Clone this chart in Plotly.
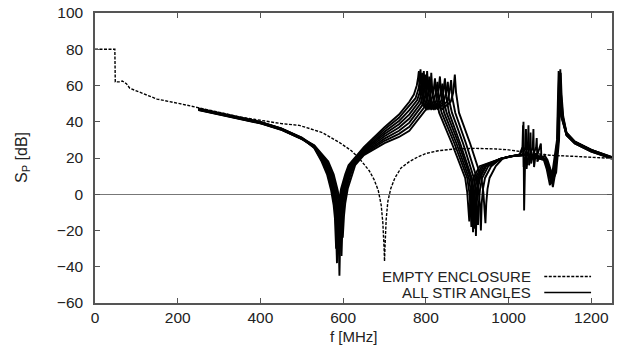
import plotly.graph_objects as go

# ---------------- data ----------------
X_TICKS = [0, 200, 400, 600, 800, 1000, 1200]
Y_TICKS = [-60, -40, -20, 0, 20, 40, 60, 80, 100]
LEGEND_LABELS = ["EMPTY ENCLOSURE", "ALL STIR ANGLES"]
X_TITLE = "f [MHz]"
Y_TITLE = "S<sub>P</sub> [dB]"

EMPTY_F = [0, 48, 49, 60, 66, 70, 76, 84, 96, 125, 150, 205, 253, 300, 350, 400, 450,
           494, 550, 590, 620, 640, 663, 675, 685, 692, 696, 699, 700, 701, 704, 708,
           715, 725, 740, 760, 780, 800, 830, 870, 920, 970, 1000, 1030, 1060, 1100,
           1150, 1200, 1250]
EMPTY_S = [80, 80, 62, 62, 62.5, 62, 61, 58.5, 57.4, 54.6, 52.5, 50, 47.5, 45, 42.7,
           40.8, 39, 38, 34, 28.7, 24, 19.5, 13, 8, 2, -6, -16, -30, -37, -30, -14, -4,
           3, 9, 14.5, 18, 20.5, 22.5, 24, 25, 25.3, 25, 24.5, 23.5, 22.5, 21.5, 21,
           20.5, 19.8]

STIR_1 = [(250, 47.2), (300, 44.8), (350, 42.3), (400, 39.8), (450, 36.3), (500, 31.1),
          (530, 25.5), (548, 18), (561, 11), (571, 2), (577, -6), (580, -13), (583, -30),
          (586, -12), (589, -5), (595, 3), (605, 11), (613, 16), (650, 26), (700, 37),
          (735, 44), (760, 51), (771, 55), (778, 60), (781, 64), (783, 68), (786, 56),
          (791, 50), (801, 47), (812, 51), (818, 56), (822, 64), (825, 54), (832, 45),
          (863, 28), (895, 9), (900, 1), (903, -7), (905, -15), (907, -5), (910, 3),
          (915, 9), (930, 15.5), (980, 19.5), (1005, 21), (1027, 22), (1033.5, 26),
          (1035, 38), (1036.5, 15), (1039, 19.5), (1044, 21.5), (1085, 19), (1092, 14),
          (1100, 5), (1106, 12), (1117, 30), (1119, 50), (1121, 68), (1123, 55),
          (1127, 43), (1140, 33), (1160, 28.5), (1200, 24), (1250, 20)]
STIR_2 = [(250, 46.9), (300, 44.5), (350, 42.0), (400, 39.5), (450, 36.0), (500, 30.8),
          (530, 25.8), (550, 18), (563, 11), (573, 2), (579, -6), (582, -13), (585, -38),
          (588, -12), (591, -5), (597, 3), (607, 11), (615, 16), (650, 25.3), (700, 35.8),
          (735, 42.2), (760, 48.7), (775, 53), (782, 58), (785, 62), (787, 69), (790, 57),
          (795, 50), (805, 47), (818, 51), (824, 56), (828, 62), (831, 52), (838, 45),
          (869, 28), (900, 9), (905, 1), (908, -7), (910, -18), (912, -5), (915, 3),
          (920, 9), (935, 15.5), (980, 19.5), (1005, 21), (1028, 22), (1034.5, 26),
          (1036, 40), (1037.5, -9), (1040, 19.5), (1045, 21.5), (1088, 19), (1095, 14),
          (1103, 7), (1109, 12), (1118, 30), (1120, 50), (1122, 65), (1124, 55),
          (1128, 43), (1140, 32.5), (1160, 28), (1200, 23.5), (1250, 19.8)]
STIR_3 = [(250, 46.6), (300, 44.2), (350, 41.7), (400, 39.2), (450, 35.7), (500, 30.5),
          (530, 26), (552, 18), (565, 11), (575, 2), (581, -6), (584, -13), (587, -28),
          (590, -12), (593, -5), (599, 3), (609, 11), (617, 16), (650, 24.6), (700, 34.5),
          (735, 40.4), (760, 46.4), (779, 52), (786, 57), (789, 61), (791, 67), (794, 55),
          (799, 50), (810, 47), (824, 51), (830, 56), (834, 65), (837, 55), (844, 45),
          (874, 28), (904, 9), (909, 1), (912, -7), (914, -21), (916, -5), (919, 3),
          (924, 9), (939, 15.5), (980, 19.5), (1005, 21), (1034, 22), (1040.5, 26),
          (1042, 36), (1043.5, 14), (1046, 19.5), (1051, 21.5), (1090, 19), (1097, 14),
          (1105, 6), (1111, 12), (1119, 30), (1121, 50), (1123, 67), (1125, 55),
          (1129, 43), (1140, 33.5), (1160, 29), (1200, 24.5), (1250, 20.3)]
STIR_4 = [(250, 47.1), (300, 44.7), (350, 42.2), (400, 39.7), (450, 36.2), (500, 31.0),
          (530, 26.2), (554, 18), (567, 11), (577, 2), (583, -6), (586, -13), (589, -33),
          (592, -12), (595, -5), (601, 3), (611, 11), (619, 16), (650, 24), (700, 33.2),
          (735, 38.6), (760, 44.1), (783, 51), (790, 56), (793, 60), (795, 68), (798, 56),
          (803, 50), (814, 47), (830, 51), (836, 56), (840, 61), (843, 52), (850, 45),
          (879, 28), (908, 9), (913, 1), (916, -7), (918, -19), (920, -5), (923, 3),
          (928, 9), (943, 15.5), (980, 19.5), (1005, 21), (1040, 22), (1046.5, 26),
          (1048, 38), (1049.5, 16), (1052, 19.5), (1057, 21.5), (1092, 19), (1099, 14),
          (1107, 4), (1113, 12), (1120, 30), (1122, 50), (1124, 64), (1126, 55),
          (1130, 43), (1140, 33.5), (1160, 28.5), (1200, 24), (1250, 20)]
STIR_5 = [(250, 46.7), (300, 44.3), (350, 41.8), (400, 39.3), (450, 35.8), (500, 30.6),
          (530, 26.4), (556, 18), (569, 11), (579, 2), (585, -6), (588, -13), (591, -45),
          (594, -12), (597, -5), (603, 3), (613, 11), (621, 16), (650, 23.4), (700, 32),
          (735, 36.8), (760, 41.8), (787, 50), (794, 55), (797, 59), (799, 66), (802, 54),
          (807, 50), (818, 47), (836, 51), (842, 56), (846, 64), (849, 54), (856, 45),
          (883, 28), (911, 9), (916, 1), (919, -7), (921, -23), (923, -5), (926, 3),
          (931, 9), (946, 15.5), (980, 19.5), (1005, 21), (1045, 22), (1051.5, 26),
          (1053, 34), (1054.5, 17), (1057, 19.5), (1062, 21.5), (1087, 19), (1094, 14),
          (1102, 8), (1108, 12), (1121, 30), (1123, 50), (1125, 69), (1127, 55),
          (1131, 43), (1140, 34), (1160, 29), (1200, 24.5), (1250, 20.5)]
STIR_6 = [(250, 47.3), (300, 44.9), (350, 42.4), (400, 39.9), (450, 36.4), (500, 31.2),
          (530, 26.6), (558, 18), (571, 11), (581, 2), (587, -6), (590, -13), (593, -26),
          (596, -12), (599, -5), (605, 3), (615, 11), (623, 16), (650, 22.8), (700, 30.7),
          (735, 35), (760, 39.5), (791, 49), (798, 54), (801, 58), (803, 68), (806, 56),
          (811, 50), (822, 47), (843, 51), (849, 56), (853, 62), (856, 52), (863, 45),
          (890, 28), (916, 9), (921, 1), (924, -7), (926, -17), (928, -5), (931, 3),
          (936, 9), (951, 15.5), (980, 19.5), (1005, 21), (1052, 22), (1058.5, 26),
          (1060, 36), (1061.5, 15), (1064, 19.5), (1069, 21.5), (1089, 19), (1096, 14),
          (1104, 6), (1110, 12), (1119, 30), (1121, 50), (1123, 66), (1125, 55),
          (1129, 43), (1140, 32.5), (1160, 28), (1200, 23.5), (1250, 19.6)]
STIR_7 = [(250, 46.5), (300, 44.1), (350, 41.6), (400, 39.1), (450, 35.6), (500, 30.4),
          (530, 26.8), (561, 18), (574, 11), (584, 2), (590, -6), (593, -13), (596, -34),
          (599, -12), (602, -5), (608, 3), (618, 11), (626, 16), (650, 22.2), (700, 29.5),
          (735, 33.3), (760, 37.2), (796, 48), (803, 53), (806, 57), (808, 65), (811, 53),
          (816, 50), (828, 47), (851, 51), (857, 56), (861, 63), (864, 53), (871, 45),
          (897, 28), (923, 9), (928, 1), (931, -7), (933, -20), (935, -5), (938, 3),
          (943, 9), (958, 15.5), (980, 19.5), (1005, 21), (1060, 22), (1066.5, 26),
          (1068, 31), (1069.5, 18), (1072, 19.5), (1077, 21.5), (1091, 19), (1098, 14),
          (1106, 7), (1112, 12), (1120, 30), (1122, 50), (1124, 63), (1126, 55),
          (1130, 43), (1140, 33), (1160, 28.5), (1200, 24), (1250, 20.1)]
STIR_8 = [(250, 47.0), (300, 44.6), (350, 42.1), (400, 39.6), (450, 36.1), (500, 30.9),
          (530, 27), (564, 18), (577, 11), (587, 2), (593, -6), (596, -13), (599, -24),
          (602, -12), (605, -5), (611, 3), (621, 11), (629, 16), (650, 21.6), (700, 28.2),
          (735, 31.6), (760, 35), (801, 47), (808, 52), (811, 56), (813, 67), (816, 55),
          (821, 50), (840, 47), (860, 51), (866, 56), (870, 66), (873, 56), (880, 45),
          (907, 28), (934, 9), (939, 1), (942, -7), (944, -16), (946, -5), (949, 3),
          (954, 9), (969, 15.5), (985, 19.5), (1005, 21), (1070, 22), (1076.5, 26),
          (1078, 28), (1079.5, 19), (1082, 19.5), (1087, 21.5), (1094, 19), (1101, 14),
          (1109, 9), (1115, 12), (1122, 30), (1124, 50), (1126, 67), (1128, 55),
          (1132, 43), (1140, 34), (1160, 29), (1200, 24.5), (1250, 20.4)]
STIR_ANGLES = [STIR_1, STIR_2, STIR_3, STIR_4, STIR_5, STIR_6, STIR_7, STIR_8]

# ---------------- figure ----------------
FONT = "Liberation Sans, Arial, Helvetica, sans-serif"
AX_COLOR = "#555555"
TXT_COLOR = "#222222"

fig = go.Figure()
fig.add_trace(go.Scatter(x=EMPTY_F, y=EMPTY_S, mode="lines", showlegend=False,
                         line=dict(color="black", width=1.4, dash="3px,1.5px")))
for curve in STIR_ANGLES:
    fig.add_trace(go.Scatter(x=[p[0] for p in curve], y=[p[1] for p in curve],
                             mode="lines", showlegend=False,
                             line=dict(color="black", width=1.9)))

axis_common = dict(showline=True, linecolor=AX_COLOR, linewidth=1.5, mirror="allticks",
                   ticks="inside", ticklen=5, tickcolor=AX_COLOR, tickwidth=1.2,
                   showgrid=False, tickfont=dict(family=FONT, size=15.5, color=TXT_COLOR))
fig.update_layout(
    width=617, height=345,
    margin=dict(l=95, r=3, t=13, b=42),
    paper_bgcolor="white", plot_bgcolor="white",
    showlegend=False,
    xaxis=dict(range=[0, 1250], tickvals=X_TICKS, zeroline=False, **axis_common),
    yaxis=dict(range=[-60, 100], tickvals=Y_TICKS, zeroline=True, ticklabelstandoff=7,
               zerolinecolor="#777777", zerolinewidth=1.3, **axis_common),
)

# axis titles
fig.add_annotation(text=X_TITLE, xref="paper", yref="paper", x=0.5, y=0.0,
                   yshift=-33, showarrow=False, xanchor="center", yanchor="middle",
                   borderpad=0, font=dict(family=FONT, size=15, color=TXT_COLOR))
fig.add_annotation(text=Y_TITLE, xref="paper", yref="paper", x=0, y=0.5,
                   xshift=-73, showarrow=False, textangle=-90,
                   xanchor="center", yanchor="middle",
                   font=dict(family=FONT, size=16, color=TXT_COLOR))

# legend (gnuplot style: text right-aligned, sample on the right)
leg_rows = [0.0914, 0.0362]
for label, yy, dash in zip(LEGEND_LABELS, leg_rows, ["3px,1.5px", "solid"]):
    fig.add_annotation(text=label, xref="paper", yref="paper", x=0.846, y=yy,
                       showarrow=False, xanchor="right", yanchor="middle", borderpad=0,
                       font=dict(family=FONT, size=15, color=TXT_COLOR))
    fig.add_shape(type="line", xref="paper", yref="paper", x0=0.869, x1=0.9595,
                  y0=yy, y1=yy, line=dict(color="black", width=1.4, dash=dash))

fig.write_html("out.html", config={"displayModeBar": False},
               post_script="document.body.style.margin='0';")
